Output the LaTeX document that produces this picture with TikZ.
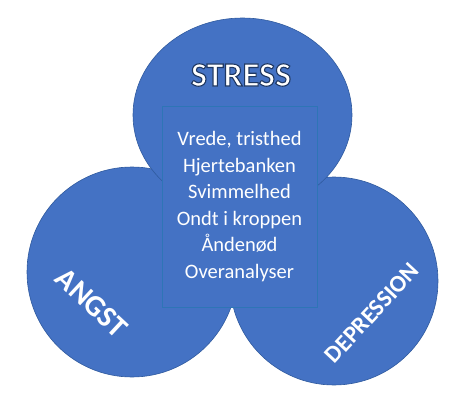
\documentclass[tikz,border=0pt]{standalone}
\usepackage{fontspec}
\setmainfont{Carlito}
\usetikzlibrary{positioning}
\definecolor{officeblue}{HTML}{4472C4}
\definecolor{rimblue}{HTML}{2F5A9E}
\definecolor{boxline}{HTML}{2E75B6}
% white letters with a dark rim
\newcommand\rimmed[1]{\special{pdf:literal direct 0.12 0.22 0.39 RG 1.1 w 2 Tr}#1\special{pdf:literal direct 0 Tr}}
\tikzset{
  blob/.style={fill=officeblue, draw=rimblue, line width=0.6pt},
  ringtext/.style={text=white, font=\bfseries}
}

\begin{document}
\begin{tikzpicture}[x=1pt,y=-1pt]
  \useasboundingbox (0,0) rectangle (471,404);
  % the three circles
  \draw[blob] (132,272) circle [radius=105];
  \draw[blob] (334,281) circle [radius=104];
  \draw[blob] (242.5,115) ellipse [x radius=109.5, y radius=97];
  % box in the middle
  \node[draw=boxline, fill=officeblue, line width=0.8pt,
        minimum width=155, minimum height=201] (box) at (239.5,206.5) {};
  \node[text=white, align=center, font=\fontsize{20.5}{26.6}\selectfont]
        (symptoms) at (box.center) {Vrede, tristhed\\Hjertebanken\\Svimmelhed\\Ondt i kroppen\\Åndenød\\Overanalyser};
  \node[ringtext, rotate=-43, font=\bfseries\fontsize{30}{34}\selectfont] (angst) at (92,303) {ANGST};
  \node[ringtext, rotate=47, font=\bfseries\fontsize{24}{27}\selectfont] (depression) at (372,313) {DEPRESSION};
  \node[text=white, font=\bfseries\fontsize{34}{40}\selectfont] (stress) at (241,75) {\rimmed{STRESS}};
\end{tikzpicture}
\end{document}
